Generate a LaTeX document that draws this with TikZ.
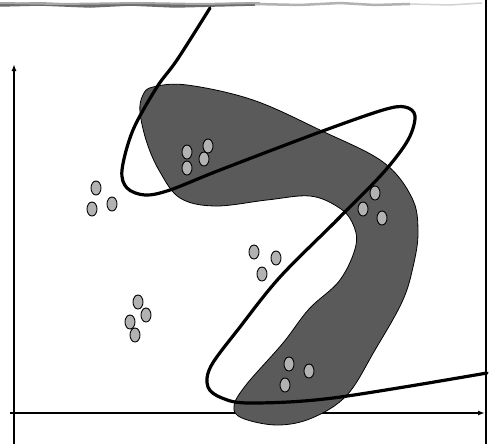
\documentclass[tikz,border=0pt]{standalone}
\usetikzlibrary{arrows.meta,shapes.geometric}
\definecolor{blob}{RGB}{90,90,90}
\definecolor{smp}{RGB}{178,178,178}

\begin{document}
\begin{tikzpicture}[x=1pt,y=-1pt,>={Latex[length=7pt,width=5pt]},
  axis/.style={line width=2pt,->},
  region/.style={fill=blob,draw=black,line width=0.8pt},
  bound/.style={line width=3.2pt,line cap=round},
  smp/.style={ellipse,draw,line width=0.9pt,fill=smp,minimum width=10pt,minimum height=14pt,inner sep=0pt}]
  \useasboundingbox (0,0) rectangle (492,444);
  % torn top edge
  \draw[gray!85!black,line width=3.5pt] (0,5) -- (40,4) -- (90,6) -- (130,4) -- (175,6) -- (215,5) -- (255,4);
  \draw[gray!70,line width=2pt] (0,3) -- (60,4) -- (140,3) -- (200,4) -- (260,3);
  \draw[gray!60,line width=2.5pt] (255,4) -- (300,5) -- (340,3) -- (375,5) -- (410,4);
  \draw[gray!35,line width=1.5pt] (410,4) -- (450,5) -- (482,3);
  % frame edge and axes
  \coordinate (fr1) at (486,0); \coordinate (fr2) at (486,444);
  \draw[line width=1.8pt] (fr1) -- (fr2);
  \coordinate (o) at (14,444); \coordinate (ytip) at (14,64);
  \coordinate (x0) at (10,413); \coordinate (xtip) at (485,413);
  \draw[axis] (o) -- (ytip);
  \draw[axis] (x0) -- (xtip);
  % shaded class region
  \draw[region] plot[smooth cycle,tension=0.6] coordinates {
    (153,87) (187,85) (253,100) (322,131) (383,162) (412,198) (418,232) (413,267)
    (402,302) (375,350) (347,395) (312,418) (277,425) (242,418) (234,406) (246,385)
    (283,343) (309,309) (340,280) (356,245) (352,222) (338,207) (310,196) (267,200)
    (215,206) (180,198) (160,172) (147,143) (140,112) (143,95)};
  % decision boundary
  \draw[bound] plot[smooth,tension=0.55] coordinates {
    (210,8) (177,60) (157,87) (133,130) (122,170) (127,188) (145,195) (170,190)
    (220,170) (320,132) (383,110) (405,107) (415,116) (408,140) (383,173) (337,220)
    (280,277) (240,327) (211,366) (208,387) (222,398) (250,403) (333,398) (487,373)};
  % samples
  \foreach \p [count=\i] in {(187,152),(187,168),(208,146),(204,159),
      (96,188),(92,209),(112,204),
      (375,193),(363,209),(382,218),
      (254,252),(276,258),(262,274),
      (138,302),(146,315),(130,322),(135,335),
      (289,364),(309,371),(285,385)}
    \node[smp] (s\i) at \p {};
\end{tikzpicture}
\end{document}
